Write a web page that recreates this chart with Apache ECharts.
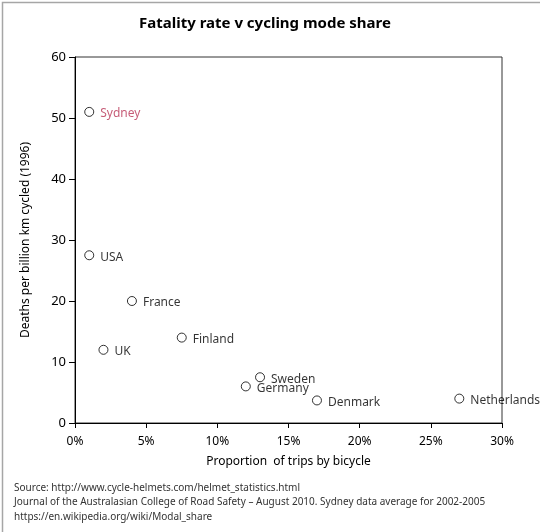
<!DOCTYPE html>
<html>
<head>
<meta charset="utf-8">
<script src="https://cdn.jsdelivr.net/npm/echarts@6/dist/echarts.min.js"></script>
<style>
html,body{margin:0;padding:0;background:#fff;}
#c{width:540px;height:532px;}
</style>
</head>
<body>
<div id="c"></div>
<script>
const countries = ['Sydney','USA','France','UK','Finland','Sweden','Germany','Denmark','Netherlands'];
const tripShare = [1, 1, 4, 2, 7.5, 13, 12, 17, 27];
const deathRate = [51, 27.5, 20, 12, 14, 7.5, 6, 3.7, 4];
const footnotes = [
  'Source: http://www.cycle-helmets.com/helmet_statistics.html',
  'Journal of the Australasian College of Road Safety \u2013 August 2010. Sydney data average for 2002-2005',
  'https://en.wikipedia.org/wiki/Modal_share'
];

const FONT = 'Noto Sans';
const chart = echarts.init(document.getElementById('c'), null, {renderer:'canvas'});

const points = countries.map((n, i) => ({
  name: n,
  value: [tripShare[i], deathRate[i]],
  label: n === 'Sydney' ? {color: '#b83355'} : {}
}));

chart.setOption({
  animation: false,
  backgroundColor: '#fff',
  title: {
    text: 'Fatality rate v cycling mode share',
    left: 134,
    top: 11,
    textStyle: {fontFamily: FONT, fontSize: 15, fontWeight: 'bold', color: '#000'}
  },
  grid: {
    left: 75, right: 38, top: 57, bottom: 109,
    show: true, borderColor: '#333', borderWidth: 1, backgroundColor: 'transparent'
  },
  xAxis: {
    type: 'value', min: 0, max: 30, interval: 5,
    name: 'Proportion  of trips by bicycle',
    nameLocation: 'middle', nameGap: 33,
    nameTextStyle: {fontFamily: FONT, fontSize: 12, color: '#000'},
    axisLine: {show: true, lineStyle: {color: '#000', width: 1}},
    axisTick: {show: true, inside: false, length: 5, lineStyle: {color: '#000'}},
    axisLabel: {formatter: '{value}%', fontFamily: FONT, fontSize: 12, color: '#000', margin: 13},
    splitLine: {show: false}
  },
  yAxis: {
    type: 'value', min: 0, max: 60, interval: 10,
    name: 'Deaths per billion km cycled (1996)',
    nameLocation: 'middle', nameGap: 43,
    nameTextStyle: {fontFamily: FONT, fontSize: 12, color: '#000'},
    axisLine: {show: true, lineStyle: {color: '#000', width: 1}},
    axisTick: {show: true, inside: false, length: 6, lineStyle: {color: '#000'}},
    axisLabel: {fontFamily: FONT, fontSize: 13, color: '#000', margin: 9},
    splitLine: {show: false}
  },
  series: [{
    type: 'scatter',
    data: points,
    symbol: 'circle',
    symbolSize: 9,
    itemStyle: {color: '#fff', borderColor: '#000', borderWidth: 1},
    label: {
      show: true, position: 'right', distance: 6, offset: [0, 2],
      formatter: p => p.name,
      fontFamily: FONT, fontSize: 12, color: '#000'
    }
  }],
  graphic: [
    {type: 'rect', left: 0, top: 0, silent: true,
     shape: {x: 0.75, y: 0.75, width: 538.5, height: 530.5},
     style: {fill: 'none', stroke: '#a6a6a6', lineWidth: 1.5}},
    ...footnotes.map((t, i) => ({
      type: 'text', left: 14, top: 483 + i * 14.5,
      style: {text: t, fontFamily: FONT, fontSize: 10, fill: '#333'}
    }))
  ]
});
</script>
</body>
</html>
